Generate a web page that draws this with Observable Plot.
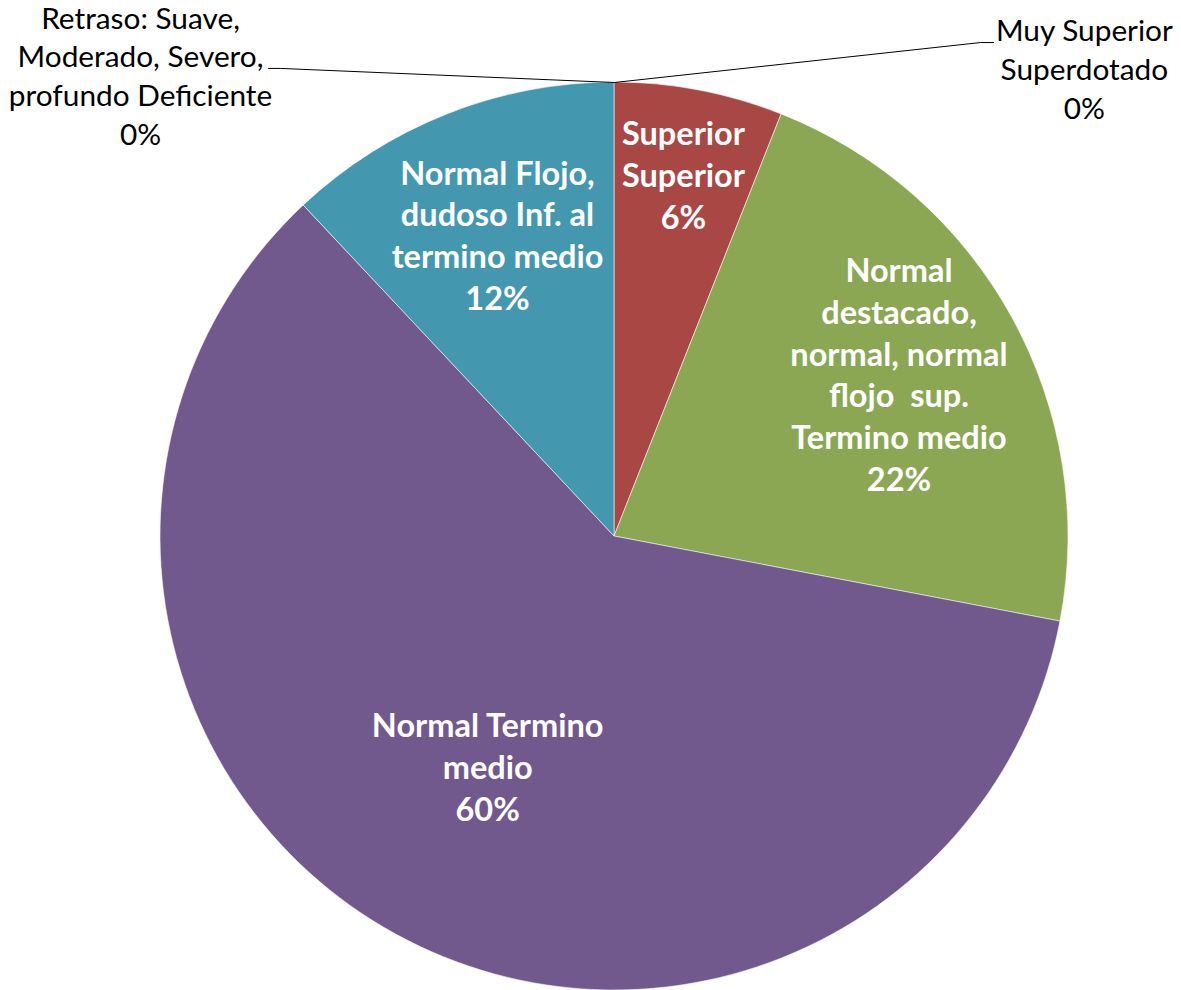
<!DOCTYPE html>
<html>
<head>
<meta charset="utf-8">
<script src="https://cdn.jsdelivr.net/npm/d3@7"></script>
<script src="https://cdn.jsdelivr.net/npm/@observablehq/plot@0.6"></script>
<style>
  html, body { margin: 0; padding: 0; background: #ffffff; }
  #chart svg { display: block; }
</style>
</head>
<body>
<div id="chart"></div>
<script>
// ---- Data ----
const categories = [
  "Muy Superior Superdotado",
  "Superior Superior",
  "Normal destacado, normal, normal flojo  sup. Termino medio",
  "Normal Termino medio",
  "Normal Flojo, dudoso Inf. al termino medio",
  "Retraso: Suave, Moderado, Severo, profundo Deficiente"
];
const percentages = [0, 6, 22, 60, 12, 0];
const labelLines = [
  ["Muy Superior", "Superdotado"],
  ["Superior", "Superior"],
  ["Normal", "destacado,", "normal, normal", "flojo  sup.", "Termino medio"],
  ["Normal Termino", "medio"],
  ["Normal Flojo,", "dudoso Inf. al", "termino medio"],
  ["Retraso: Suave,", "Moderado, Severo,", "profundo Deficiente"]
];
const sliceColors = ["#8064A2", "#A94745", "#8BA753", "#71598E", "#4398B0", "#4F81BD"];

// ---- Layout (presentation only) ----
const FONT = "Lato, 'Open Sans', sans-serif";
const insideRadius = [null, 0.81, 0.715, 0.58, 0.70, null];
const insideNudgeY = [0, -2, -7, -2, -7, 0];
const outsideLabel = {
  0: {x: 1.035, y: 1.033, bend: [0.806, 1.088], end: [0.835, 1.088]},
  5: {x: -1.044, y: 1.018, bend: [-0.735, 1.031], end: [-0.762, 1.031]}
};

const pie = d3.pie().sort(null).value(d => d)(percentages);
const color = d3.scaleOrdinal(categories, sliceColors);

const insideLabels = [];
const outsideLabels = [];
const leaders = [];
pie.forEach((a, i) => {
  const text = labelLines[i].join("\n") + "\n" + percentages[i] + "%";
  if (a.value > 0) {
    const mid = (a.startAngle + a.endAngle) / 2;
    const k = insideRadius[i];
    insideLabels.push({x: k * Math.sin(mid), y: k * Math.cos(mid), dy: insideNudgeY[i], text});
  } else {
    const o = outsideLabel[i];
    outsideLabels.push({x: o.x, y: o.y, text});
    const sx = Math.sin(a.startAngle), sy = Math.cos(a.startAngle);
    leaders.push({id: i, x: sx, y: sy});
    leaders.push({id: i, x: o.bend[0], y: o.bend[1]});
    leaders.push({id: i, x: o.end[0], y: o.end[1]});
  }
});

function pieSlices(index, scales, values, dimensions, context) {
  const cx = scales.x(0), cy = scales.y(0);
  const r = scales.x(1) - scales.x(0);
  const arc = d3.arc().innerRadius(0).outerRadius(r);
  const g = d3.create("svg:g").attr("transform", `translate(${cx},${cy})`);
  g.selectAll("path")
    .data(pie.filter(a => a.value > 0))
    .join("path")
    .attr("d", arc)
    .attr("fill", a => color(categories[a.index]))
    .attr("stroke", "#ffffff")
    .attr("stroke-opacity", 0.55)
    .attr("stroke-width", 1);
  return g.node();
}

const R = 454, CX = 614, CY = 536, W = 1181, H = 990;

const insideMarks = insideLabels.map(d => Plot.text([d], {
  x: "x", y: "y", text: "text", dy: d.dy,
  fill: "#ffffff", fontWeight: "bold", fontSize: 32.5, lineHeight: 1.29,
  fontFamily: FONT, textAnchor: "middle", lineAnchor: "middle"
}));

const chart = Plot.plot({
  width: W,
  height: H,
  margin: 0,
  x: {domain: [-CX / R, (W - CX) / R], range: [0, W], axis: null},
  y: {domain: [-(H - CY) / R, CY / R], range: [H, 0], axis: null},
  style: {fontFamily: FONT, background: "#ffffff"},
  marks: [
    pieSlices,
    Plot.line(leaders, {x: "x", y: "y", z: "id", stroke: "#000000", strokeWidth: 1}),
    ...insideMarks,
    Plot.text(outsideLabels, {
      x: "x", y: "y", text: "text",
      fill: "#000000", fontSize: 29.8, lineHeight: 1.3,
      fontFamily: FONT, textAnchor: "middle", lineAnchor: "middle"
    })
  ]
});

document.getElementById("chart").append(chart);
</script>
</body>
</html>
